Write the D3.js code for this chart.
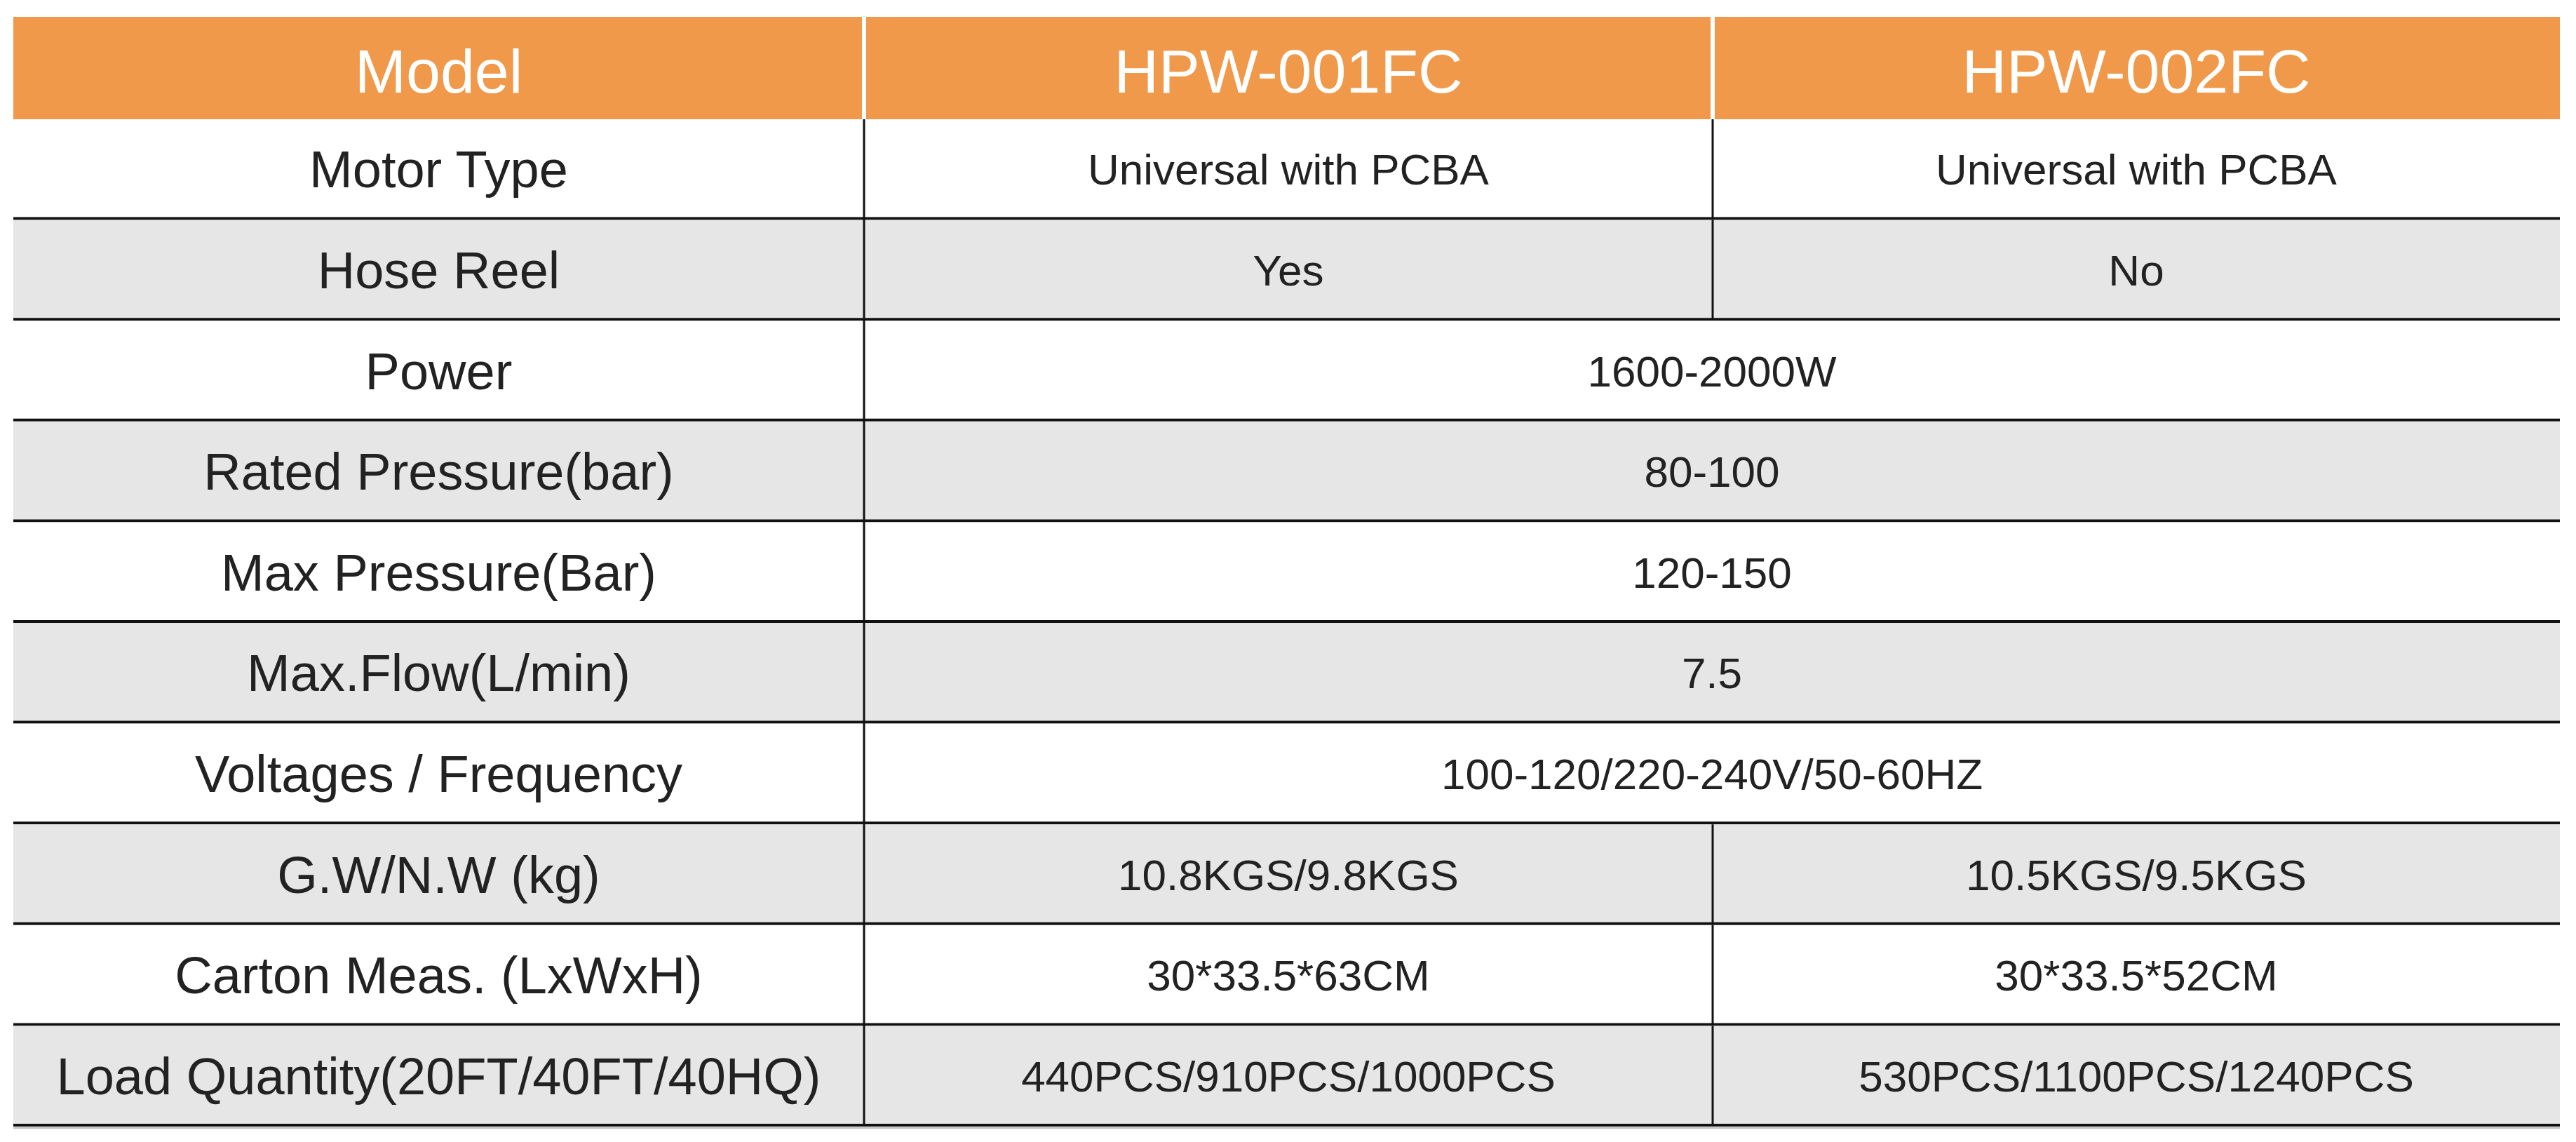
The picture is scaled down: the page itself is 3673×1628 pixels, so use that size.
<!DOCTYPE html>
<html><head><meta charset="utf-8">
<script src="https://cdn.jsdelivr.net/npm/d3@7"></script>
<style>body{margin:0;background:#fff}</style></head>
<body><svg id="c" width="3673" height="1628"></svg>
<script>
const headers = ["Model", "HPW-001FC", "HPW-002FC"];
const labels = ["Motor Type","Hose Reel","Power","Rated Pressure(bar)","Max Pressure(Bar)","Max.Flow(L/min)","Voltages / Frequency","G.W/N.W (kg)","Carton Meas. (LxWxH)","Load Quantity(20FT/40FT/40HQ)"];
const col1 = ["Universal with PCBA","Yes","1600-2000W","80-100","120-150","7.5","100-120/220-240V/50-60HZ","10.8KGS/9.8KGS","30*33.5*63CM","440PCS/910PCS/1000PCS"];
const col2 = ["Universal with PCBA","No",null,null,null,null,null,"10.5KGS/9.5KGS","30*33.5*52CM","530PCS/1100PCS/1240PCS"];

(function(){
const svg = d3.select("#c");
const font = "'Liberation Sans', Arial, Helvetica, sans-serif";
const L = 19, X1 = 1232, X2 = 2442, R = 3650, T0 = 24, hb = 170, bottom = 1606;
const y = d3.scaleBand().domain(d3.range(labels.length)).range([hb, bottom]);
const colX = [[L,X1],[X1,X2],[X2,R]];

svg.append("rect").attr("x",L).attr("y",T0).attr("width",R-L).attr("height",hb-T0).attr("fill","#F0994A");
[X1,X2].forEach(x=>svg.append("line").attr("x1",x).attr("x2",x).attr("y1",T0).attr("y2",hb).attr("stroke","#fff").attr("stroke-width",6));
headers.forEach((h,i)=>svg.append("text").attr("x",(colX[i][0]+colX[i][1])/2).attr("y",(T0+hb)/2+4)
  .attr("text-anchor","middle").attr("dominant-baseline","central").attr("fill","#fff")
  .attr("font-family",font).attr("font-size",88).text(h));

labels.forEach((lab,i)=>{
  const y0 = y(i), h = y.bandwidth();
  svg.append("rect").attr("x",L).attr("y",y0).attr("width",R-L).attr("height",h).attr("fill", i%2 ? "#E6E6E6" : "#fff");
  const cy = y0 + h/2;
  const t = (x,s,fs)=>svg.append("text").attr("x",x).attr("y",cy).attr("text-anchor","middle").attr("dominant-baseline","central")
     .attr("fill","#222").attr("font-family",font).attr("font-size",fs).text(s);
  t((L+X1)/2, lab, 74);
  if (col2[i] === null) t((X1+R)/2, col1[i], 62);
  else {
    t((X1+X2)/2, col1[i], 62);
    t((X2+R)/2, col2[i], 62);
    svg.append("line").attr("x1",X2).attr("x2",X2).attr("y1",y0).attr("y2",y0+h).attr("stroke","#111").attr("stroke-width",3);
  }
  svg.append("line").attr("x1",L).attr("x2",R).attr("y1",y0+h-2).attr("y2",y0+h-2).attr("stroke","#111").attr("stroke-width",4);
  svg.append("line").attr("x1",L).attr("x2",R).attr("y1",y0+h+2).attr("y2",y0+h+2).attr("stroke","#bbb").attr("stroke-width",2);
});
svg.append("line").attr("x1",X1).attr("x2",X1).attr("y1",hb).attr("y2",bottom).attr("stroke","#111").attr("stroke-width",3);
})();
</script></body></html>
